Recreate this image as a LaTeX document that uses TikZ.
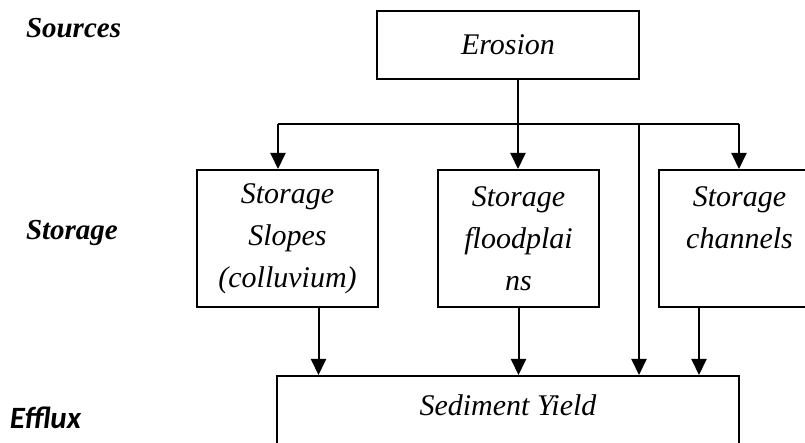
\documentclass[tikz,border=0pt]{standalone}
\usepackage{fontspec}
\setmainfont{Liberation Serif}
\newfontfamily\effluxfont{Carlito}
\usetikzlibrary{arrows.meta}

\begin{document}
\begin{tikzpicture}
  [x=0.5pt,y=-0.5pt,line width=1pt,
   every node/.style={font=\fontsize{15}{21}\selectfont\itshape,inner sep=0pt},
   box/.style={draw,align=center},
   level/.style={anchor=west,font=\fontsize{14.5}{16}\selectfont\bfseries\itshape},
   flow/.style={-{Triangle[width=7.5pt,length=8pt]}}]
  \useasboundingbox (0,0) rectangle (805,443);
  \clip (0,0) rectangle (805,443);

  \node[level] (sources) at (25,28) {Sources};
  \node[level] (storage) at (25,233) {Storage};
  \node[level,font=\fontsize{15.5}{17}\selectfont\effluxfont\bfseries\itshape] (efflux) at (9,418) {Efflux};

  \node[box,minimum width=131pt,minimum height=34pt] (erosion) at (508,45) {Erosion};
  \node[box,minimum width=90.5pt,minimum height=68.5pt] (slopes) at (287.5,238.5) {Storage\\Slopes\\(colluvium)};
  \node[box,minimum width=80.5pt,minimum height=68.5pt] (flood) at (518.5,238.5) {Storage\\floodplai\\ns};
  \node[box,minimum width=80.5pt,minimum height=68.5pt] (channels) at (739.5,238.5) {Storage\\channels\\\phantom{ns}};
  \node[draw,minimum width=231pt,minimum height=50pt,anchor=north] (yield) at (508,375) {};
  \node (yieldtext) at (508,405) {Sediment Yield};

  \coordinate (split) at (518,124);
  \coordinate (bl) at (278,124);
  \coordinate (br) at (739,124);
  \coordinate (bypass) at (639,124);

  \draw (erosion.south -| split) -- (split);
  \draw (bl) -- (br);

  % branches into storage
  \foreach \from/\to in {bl/slopes, split/flood, br/channels}
    \draw[flow] (\from) -- (\from |- \to.north);

  \draw[flow] (bypass) -- (bypass |- yield.north);

  % storage to yield
  \foreach \from/\dx in {slopes/15.5pt, flood/0pt, channels/-20.25pt}
    \draw[flow] ([xshift=\dx]\from.south) -- ([xshift=\dx]\from.south |- yield.north);
\end{tikzpicture}
\end{document}
